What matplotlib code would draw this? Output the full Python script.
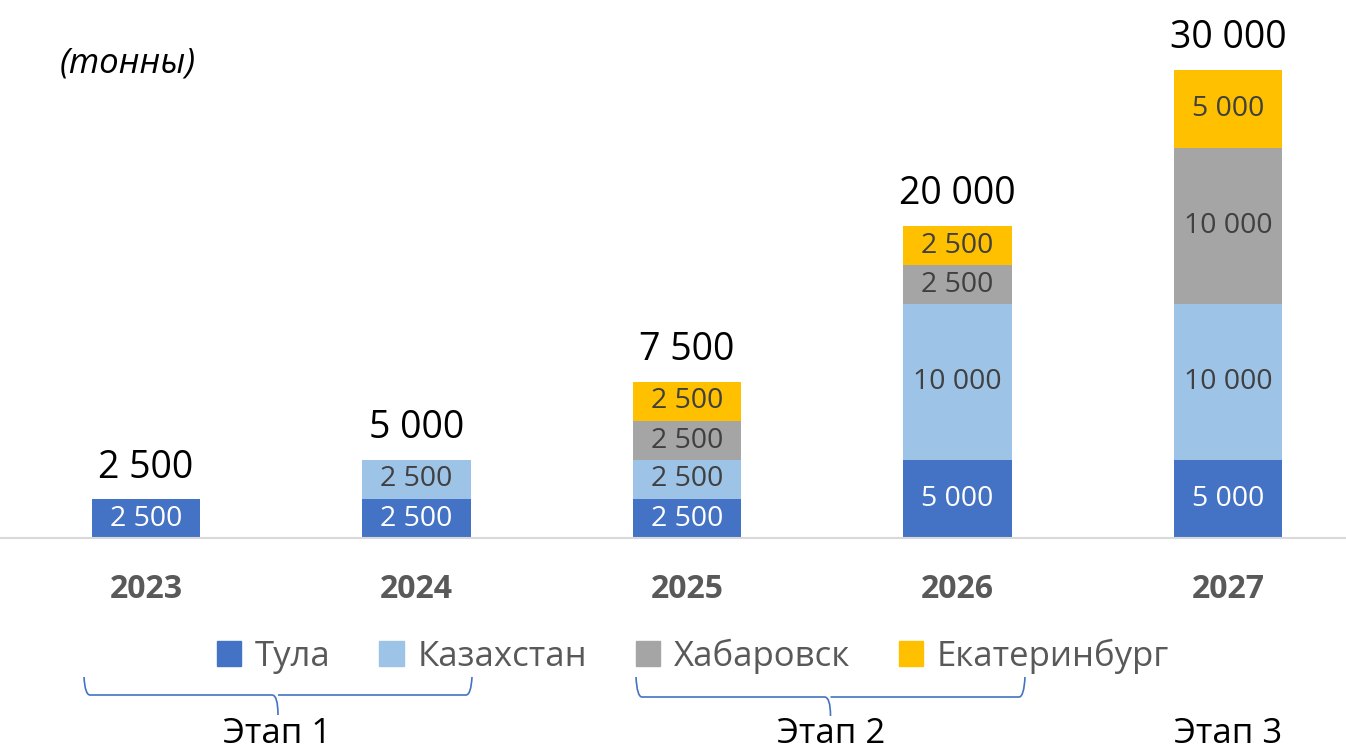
import matplotlib.pyplot as plt
from matplotlib.path import Path
from matplotlib.patches import PathPatch, Patch

plt.rcParams['font.family'] = ['Open Sans', 'DejaVu Sans']

years = ['2023', '2024', '2025', '2026', '2027']
series = ['Тула', 'Казахстан', 'Хабаровск', 'Екатеринбург']
tula = [2500, 2500, 2500, 5000, 5000]
kazakhstan = [0, 2500, 2500, 10000, 10000]
khabarovsk = [0, 0, 2500, 2500, 10000]
ekaterinburg = [0, 0, 2500, 2500, 5000]
totals = [2500, 5000, 7500, 20000, 30000]  # as labelled on the source chart
colors = ['#4472C4', '#9DC3E6', '#A5A5A5', '#FFC000']
label_colors = ['white', '#404040', '#404040', '#404040']
stages = ['Этап 1', 'Этап 2', 'Этап 3']


def fmt(v):
    return f'{v:,}'.replace(',', ' ')


W, H = 1346, 750
fig = plt.figure(figsize=(W / 100, H / 100), dpi=100)
ax = fig.add_axes([0, 212 / H, 1, 538 / H])

x = list(range(len(years)))
bottom = [0] * len(years)
for vals, col, lc in zip([tula, kazakhstan, khabarovsk, ekaterinburg], colors, label_colors):
    bars = ax.bar(x, vals, width=0.4, bottom=bottom, color=col)
    for b, v in zip(bars, vals):
        if v > 0:
            ax.text(b.get_x() + b.get_width() / 2, b.get_y() + v / 2, fmt(v),
                    ha='center', va='center', fontsize=20.5, color=lc)
    bottom = [a + b for a, b in zip(bottom, vals)]

for xi, top, tot in zip(x, bottom, totals):
    ax.annotate(fmt(tot), (xi, top), xytext=(0, 9), textcoords='offset points',
                ha='center', va='bottom', fontsize=27, color='black')

ax.set_xlim(-146 / 270.5, (W - 146) / 270.5)
ax.set_ylim(0, 538 / 39 * 2500)
ax.set_xticks(x)
ax.set_xticklabels(years, fontsize=23, fontweight='bold', color='#595959')
ax.tick_params(axis='x', length=0, pad=25)
ax.set_yticks([])
for s in ['top', 'right', 'left']:
    ax.spines[s].set_visible(False)
ax.spines['bottom'].set_color('#D9D9D9')
ax.spines['bottom'].set_linewidth(1.5)

handles = [Patch(color=c) for c in colors]
fig.legend(handles, series, loc='center', bbox_to_anchor=(693 / W, 1 - 656 / H),
           ncol=4, frameon=False, fontsize=25, handlelength=0.7, handleheight=0.7,
           handletextpad=0.4, columnspacing=1.4, labelcolor='#595959')

fig.text(60 / W, 1 - 63 / H, '(тонны)', fontsize=25, style='italic', va='center')

# braces under the legend
ov = fig.add_axes([0, 0, 1, 1])
ov.set_xlim(0, W)
ov.set_ylim(H, 0)
ov.axis('off')


def brace(x0, x1, ytop, ymid, ytip):
    xc = (x0 + x1) / 2
    verts = [(x0, ytop), (x0 + 1, ymid), (x0 + 6, ymid),
             (xc - 6, ymid), (xc, ymid), (xc, ytip),
             (xc, ymid), (xc + 6, ymid),
             (x1 - 6, ymid), (x1 - 1, ymid), (x1, ytop)]
    codes = [Path.MOVETO, Path.CURVE3, Path.CURVE3,
             Path.LINETO, Path.CURVE3, Path.CURVE3,
             Path.MOVETO, Path.LINETO,
             Path.LINETO, Path.CURVE3, Path.CURVE3]
    ov.add_patch(PathPatch(Path(verts, codes), fill=False, edgecolor='#4472C4', lw=1.2))


brace(84, 472, 677, 695, 715)
brace(636, 1025, 677, 697, 716)

for sx, st in zip([277, 831, 1228], stages):
    ov.text(sx, 734, st, ha='center', va='center', fontsize=25, color='black')

fig.savefig('out.png', dpi=100)
